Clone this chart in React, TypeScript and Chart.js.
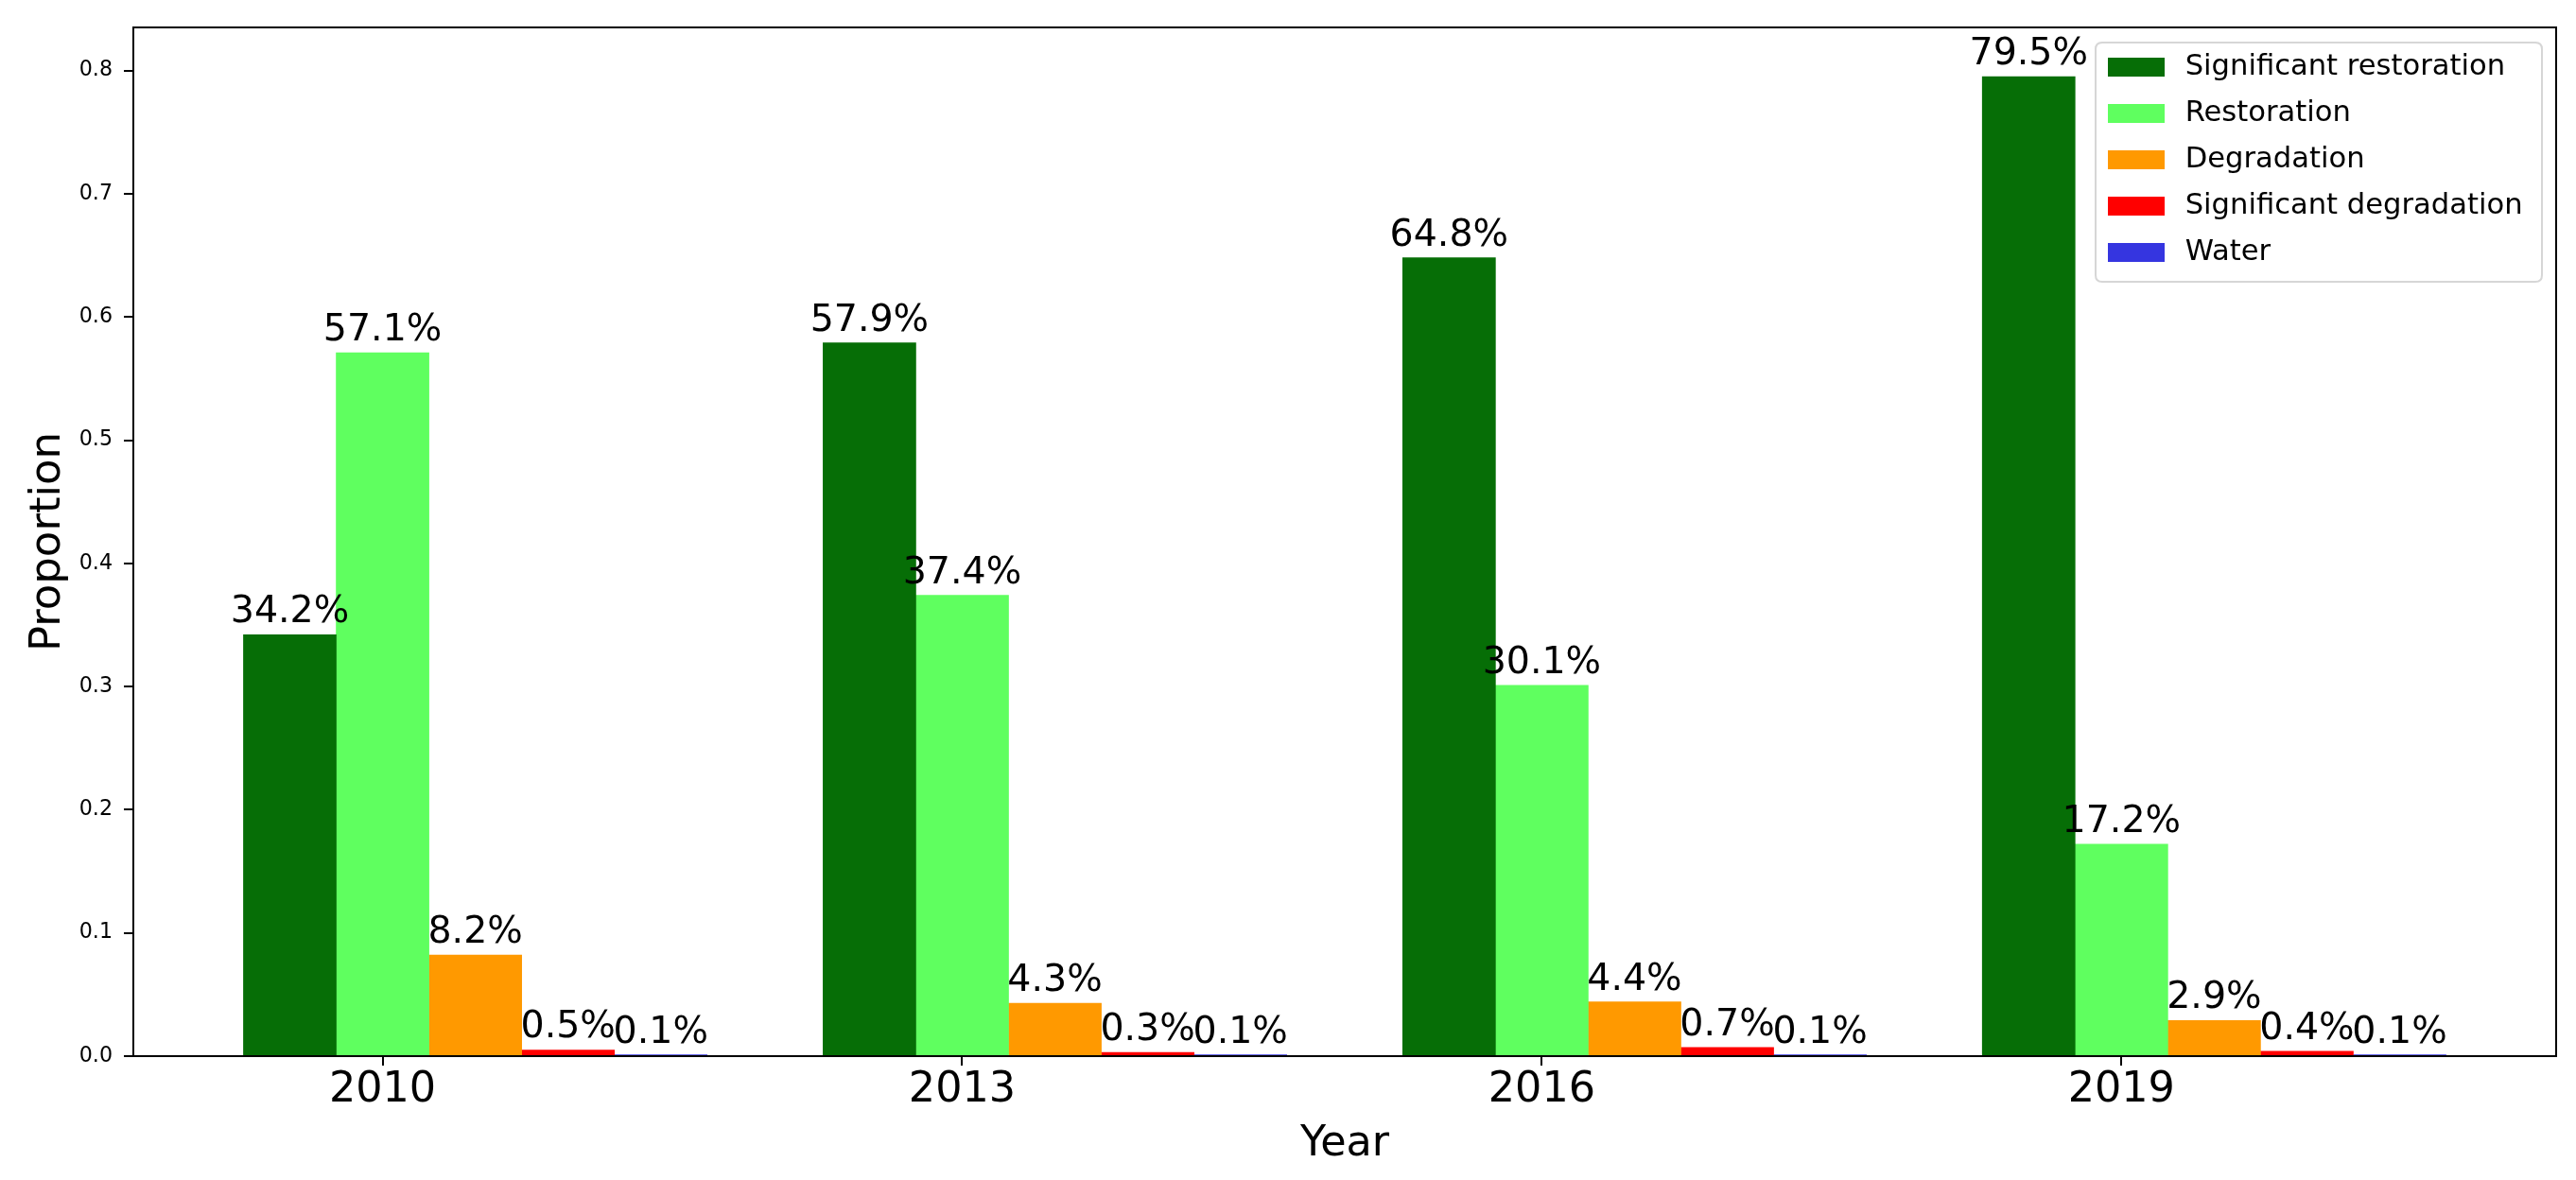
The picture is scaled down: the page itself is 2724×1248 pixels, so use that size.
import React, { useEffect, useRef } from 'react';
import { Chart, registerables } from 'chart.js';

Chart.register(...registerables);

const years = ['2010', '2013', '2016', '2019'];
const seriesNames = ['Significant restoration', 'Restoration', 'Degradation', 'Significant degradation', 'Water'];
const significantRestoration = [0.342, 0.579, 0.648, 0.795];
const restoration = [0.571, 0.374, 0.301, 0.172];
const degradation = [0.082, 0.043, 0.044, 0.029];
const significantDegradation = [0.005, 0.003, 0.007, 0.004];
const water = [0.001, 0.001, 0.001, 0.001];
const seriesColors = ['#066e06', '#5fff5f', '#ff9900', '#ff0000', '#3535e0'];
const yTickValues = [0, 0.1, 0.2, 0.3, 0.4, 0.5, 0.6, 0.7, 0.8];

const allSeries = [significantRestoration, restoration, degradation, significantDegradation, water];
const barWidth = 0.16;
const barOffsets = [-1, 0, 1, 2, 3];

const FONT = "'DejaVu Sans', 'Liberation Sans', sans-serif";

const LEGEND_PAD = 18.4;
const LEGEND_FONT = 30.6;
const SWATCH_W = 60;
const SWATCH_H = 20;
const SWATCH_SLOT = 72.7;

const framePlugin = {
  id: 'frameBorder',
  afterDraw(chart: any) {
    const { ctx, chartArea: a } = chart;
    ctx.save();
    const fl = a.right - 487;
    const ft = a.top + 16;
    const fw = 472;
    const fh = 253;
    const r = 7;
    ctx.beginPath();
    ctx.moveTo(fl + r, ft);
    ctx.lineTo(fl + fw - r, ft);
    ctx.quadraticCurveTo(fl + fw, ft, fl + fw, ft + r);
    ctx.lineTo(fl + fw, ft + fh - r);
    ctx.quadraticCurveTo(fl + fw, ft + fh, fl + fw - r, ft + fh);
    ctx.lineTo(fl + r, ft + fh);
    ctx.quadraticCurveTo(fl, ft + fh, fl, ft + fh - r);
    ctx.lineTo(fl, ft + r);
    ctx.quadraticCurveTo(fl, ft, fl + r, ft);
    ctx.closePath();
    ctx.strokeStyle = '#d6d6d6';
    ctx.lineWidth = 2;
    ctx.stroke();
    ctx.strokeStyle = '#000';
    ctx.lineWidth = 2;
    ctx.strokeRect(a.left, a.top, a.right - a.left, a.bottom - a.top);
    ctx.restore();
  },
};

const legendPlacePlugin = {
  id: 'legendPlace',
  afterLayout(chart: any) {
    const lg = chart.legend;
    const a = chart.chartArea;
    if (!lg || !a) return;
    const frameLeft = a.right - 487;
    const frameTop = a.top + 16;
    const swatchInset = (SWATCH_SLOT - SWATCH_W) / 2;
    lg.left = frameLeft + 13 - swatchInset - LEGEND_PAD;
    lg.top = frameTop + 26.3 - LEGEND_FONT / 2 - LEGEND_PAD;
    lg.right = lg.left + lg.width;
  },
};

const valueLabelPlugin = {
  id: 'valueLabels',
  afterDatasetsDraw(chart: any) {
    const ctx = chart.ctx;
    ctx.save();
    ctx.font = `39.5px ${FONT}`;
    ctx.fillStyle = '#000';
    ctx.textAlign = 'center';
    ctx.textBaseline = 'alphabetic';
    chart.data.datasets.forEach((ds: any, di: number) => {
      const meta = chart.getDatasetMeta(di);
      meta.data.forEach((el: any, i: number) => {
        const v = ds.data[i].y;
        ctx.fillText((v * 100).toFixed(1) + '%', el.x, el.y - 13);
      });
    });
    ctx.restore();
  },
};

export default function App() {
  const canvasRef = useRef<HTMLCanvasElement | null>(null);

  useEffect(() => {
    document.body.style.margin = '0';
    Chart.defaults.font.family = FONT;
    const canvas = canvasRef.current;
    if (!canvas) return;

    const swatches = seriesColors.map((c) => {
      const sw = document.createElement('canvas');
      sw.width = SWATCH_W;
      sw.height = SWATCH_H;
      const sctx = sw.getContext('2d');
      if (sctx) {
        sctx.fillStyle = c;
        sctx.fillRect(0, 0, SWATCH_W, SWATCH_H);
      }
      return sw;
    });

    const datasets = allSeries.map((vals, k) => ({
      label: seriesNames[k],
      data: vals.map((v, i) => ({ x: i + barOffsets[k] * barWidth, y: v })),
      backgroundColor: seriesColors[k],
      borderWidth: 0,
    }));

    const axisGrid = { drawOnChartArea: false, drawTicks: true, tickLength: 10, color: '#000', lineWidth: 2, offset: false };
    const axisBorder = { display: true, color: '#000', width: 2 };

    const chart = new Chart(canvas, {
      type: 'bar',
      data: { datasets } as any,
      options: {
        responsive: false,
        maintainAspectRatio: false,
        animation: false,
        layout: { padding: { left: 0, right: 21, top: 29, bottom: 0 } },
        datasets: { bar: { grouped: false, categoryPercentage: 1, barPercentage: 1 } } as any,
        scales: {
          x: {
            type: 'linear',
            min: -0.43,
            max: 3.75,
            offset: false,
            afterBuildTicks: (s: any) => {
              s.ticks = years.map((_, i) => ({ value: i }));
            },
            afterFit: (s: any) => {
              s.height = 131;
            },
            ticks: {
              callback: (v: any) => years[v] ?? '',
              font: { size: 44.5 },
              color: '#000',
              padding: 0,
              maxRotation: 0,
              autoSkip: false,
            },
            grid: axisGrid,
            border: axisBorder,
            title: { display: true, text: 'Year', font: { size: 44.5 }, color: '#000', padding: { top: 0, bottom: 11.3 } },
          },
          y: {
            type: 'linear',
            min: 0,
            max: 0.835,
            afterBuildTicks: (s: any) => {
              s.ticks = yTickValues.map((v) => ({ value: v }));
            },
            afterFit: (s: any) => {
              s.width = 141;
            },
            ticks: {
              callback: (v: any) => Number(v).toFixed(1),
              font: { size: 22.2 },
              color: '#000',
              padding: 12,
            },
            grid: axisGrid,
            border: axisBorder,
            title: { display: true, text: 'Proportion', font: { size: 45 }, color: '#000', padding: { top: 24.4, bottom: 0 } },
          },
        } as any,
        plugins: {
          legend: {
            position: 'chartArea' as any,
            align: 'start',
            labels: {
              usePointStyle: true,
              pointStyleWidth: SWATCH_SLOT,
              boxHeight: SWATCH_H,
              padding: LEGEND_PAD,
              font: { size: LEGEND_FONT },
              color: '#000',
              generateLabels: (ch: any) => {
                const items = (Chart.defaults.plugins.legend.labels as any).generateLabels(ch);
                return items.map((it: any, k: number) => ({ ...it, pointStyle: swatches[k] }));
              },
            } as any,
          },
          tooltip: { enabled: false },
        },
      },
      plugins: [legendPlacePlugin, valueLabelPlugin, framePlugin],
    });

    return () => {
      chart.destroy();
    };
  }, []);

  return (
    <div style={{ width: 2724, height: 1248, background: '#fff' }}>
      <canvas ref={canvasRef} width={2724} height={1248} style={{ display: 'block', width: 2724, height: 1248 }} />
    </div>
  );
}
